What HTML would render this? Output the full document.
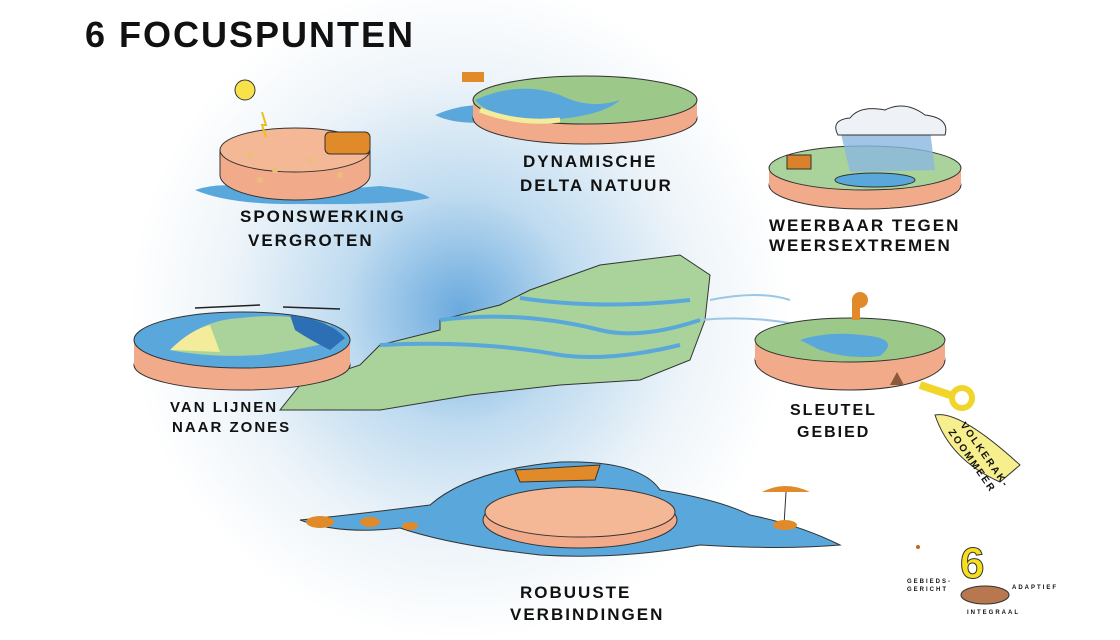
<!DOCTYPE html>
<html><head><meta charset="utf-8"><style>
html,body{margin:0;padding:0;background:#fff}
svg{display:block}
text{font-family:"Liberation Sans",sans-serif;font-weight:bold;letter-spacing:2px}
</style></head><body>
<svg width="1120" height="640" viewBox="0 0 1120 640" xmlns="http://www.w3.org/2000/svg">
<defs>
<radialGradient id="glow" cx="460" cy="310" r="330" gradientUnits="userSpaceOnUse">
<stop offset="0" stop-color="#6aaade"/><stop offset="0.35" stop-color="#bfdbf0"/><stop offset="0.7" stop-color="#edf4f9"/><stop offset="1" stop-color="#fff"/></radialGradient>
</defs>
<rect width="1120" height="640" fill="#fff"/>
<ellipse cx="460" cy="310" rx="430" ry="330" fill="url(#glow)"/>
<g fill="#111">
<text x="85" y="47" font-size="36" letter-spacing="5">6 FOCUSPUNTEN</text>
</g>

<!-- central map -->
<g stroke="#333" stroke-width="1">
<path d="M530 290 L600 265 L680 255 L710 275 L705 320 L690 360 L640 380 L560 385 L470 395 L380 410 L280 410 L300 385 L360 365 L380 345 L440 330 L440 320 L500 305 Z" fill="#a9d39a"/>
<path d="M440 320 Q520 310 600 330 Q640 340 700 320 M380 345 Q480 340 560 355 Q610 362 680 345 M520 298 Q600 310 690 300" fill="none" stroke="#5aa7dc" stroke-width="4"/>
<path d="M710 300 Q760 290 790 300 M700 320 Q750 315 800 325" fill="none" stroke="#9cc6e6" stroke-width="2"/>
</g>

<!-- sponswerking -->
<path d="M195 190 Q230 178 280 196 Q330 190 380 186 Q420 190 430 198 Q400 205 300 204 Q230 205 195 190Z" fill="#5aa7dc"/>
<ellipse cx="295" cy="175" rx="75" ry="25" fill="#f2ab8a" stroke="#333"/>
<rect x="220" y="150" width="150" height="25" fill="#f2ab8a"/>
<path d="M220 150 L220 175 M370 150 L370 175" stroke="#333"/>
<ellipse cx="295" cy="150" rx="75" ry="22" fill="#f4b896" stroke="#333"/>
<g fill="#e8c07a"><circle cx="250" cy="155" r="3"/><circle cx="275" cy="170" r="3"/><circle cx="310" cy="160" r="3"/><circle cx="340" cy="175" r="3"/><circle cx="260" cy="180" r="3"/></g>
<rect x="325" y="132" width="45" height="22" rx="5" fill="#e08a2a" stroke="#333"/>
<circle cx="245" cy="90" r="10" fill="#f7e24a" stroke="#333"/>
<path d="M262 112 L266 125 L262 125 L266 137" stroke="#e8c020" stroke-width="2" fill="none"/>
<g fill="#111">
<text x="240" y="222" font-size="17">SPONSWERKING</text>
<text x="248" y="246" font-size="17">VERGROTEN</text>
</g>

<!-- dynamische delta -->
<path d="M435 115 Q470 100 500 108 L490 122 Q455 125 435 115Z" fill="#5aa7dc"/>
<ellipse cx="585" cy="118" rx="112" ry="26" fill="#f2ab8a" stroke="#333"/>
<rect x="473" y="100" width="224" height="18" fill="#f2ab8a"/>
<ellipse cx="585" cy="100" rx="112" ry="24" fill="#9cc98a" stroke="#333"/>
<path d="M475 100 Q520 80 560 95 Q590 110 620 100 Q600 118 540 120 Q490 118 475 100Z" fill="#5aa7dc"/>
<path d="M480 110 Q520 125 560 120" fill="none" stroke="#f3ec9a" stroke-width="5"/>
<rect x="462" y="72" width="22" height="10" fill="#e08a2a"/>
<g fill="#111">
<text x="523" y="167" font-size="17">DYNAMISCHE</text>
<text x="520" y="191" font-size="17">DELTA NATUUR</text>
</g>

<!-- weerbaar -->
<ellipse cx="865" cy="185" rx="96" ry="24" fill="#f2ab8a" stroke="#333"/>
<rect x="769" y="168" width="192" height="17" fill="#f2ab8a"/>
<ellipse cx="865" cy="168" rx="96" ry="22" fill="#a9d39a" stroke="#333"/>
<ellipse cx="875" cy="180" rx="40" ry="7" fill="#5aa7dc" stroke="#333"/>
<path d="M840 130 L930 130 L935 170 L850 172Z" fill="#8ab8de" opacity="0.8"/>
<path d="M838 135 Q830 120 850 118 Q860 105 885 110 Q905 100 925 115 Q950 118 945 135Z" fill="#eef2f6" stroke="#333"/>
<rect x="787" y="155" width="24" height="14" fill="#d9822b" stroke="#333"/>
<g fill="#111">
<text x="769" y="231" font-size="17">WEERBAAR TEGEN</text>
<text x="769" y="251" font-size="17">WEERSEXTREMEN</text>
</g>

<!-- van lijnen -->
<path d="M195 308 L260 305 M283 307 L340 309" stroke="#222" stroke-width="1.5"/>
<ellipse cx="242" cy="365" rx="108" ry="25" fill="#f2ab8a" stroke="#333"/>
<rect x="134" y="340" width="216" height="25" fill="#f2ab8a"/>
<ellipse cx="242" cy="340" rx="108" ry="28" fill="#5aa7dc" stroke="#333"/>
<path d="M170 350 Q200 320 240 318 Q290 312 330 325 L340 340 Q300 350 260 355 Q210 358 170 350Z" fill="#a9d39a"/>
<path d="M170 350 Q190 330 210 325 L220 352Z" fill="#f3ec9a"/>
<path d="M290 315 Q330 320 345 338 L330 350 Q310 340 295 330Z" fill="#2c6fb5"/>
<g fill="#111">
<text x="170" y="412" font-size="15">VAN LIJNEN</text>
<text x="172" y="432" font-size="15">NAAR ZONES</text>
</g>

<!-- sleutel gebied -->
<ellipse cx="850" cy="360" rx="95" ry="30" fill="#f2ab8a" stroke="#333"/>
<rect x="755" y="340" width="190" height="20" fill="#f2ab8a"/>
<ellipse cx="850" cy="340" rx="95" ry="22" fill="#9cc98a" stroke="#333"/>
<path d="M800 340 Q830 330 870 336 Q900 340 880 356 Q850 360 820 350Z" fill="#5aa7dc"/>
<rect x="852" y="300" width="8" height="20" fill="#e08a2a"/>
<circle cx="860" cy="300" r="8" fill="#e08a2a"/>
<path d="M890 385 L897 372 L904 385Z" fill="#8a5a3a"/>
<path d="M920 385 L950 395" stroke="#f2d52a" stroke-width="8"/>
<circle cx="962" cy="398" r="10" fill="none" stroke="#f2d52a" stroke-width="6"/>
<path d="M935 415 Q960 410 1020 465 L1000 482 Q950 460 935 415Z" fill="#f7ee8d" stroke="#333"/>
<g fill="#111">
<text x="790" y="415" font-size="16">SLEUTEL</text>
<text x="797" y="437" font-size="16">GEBIED</text>
<text x="0" y="0" font-size="10" transform="translate(960,425) rotate(55)">VOLKERAK-</text>
<text x="0" y="0" font-size="10" transform="translate(948,432) rotate(55)">ZOOMMEER</text>
</g>

<!-- robuuste -->
<path d="M300 520 Q350 515 430 505 Q470 470 560 462 Q640 460 660 490 Q720 500 750 515 Q800 525 840 545 Q780 550 700 545 Q620 560 540 555 Q450 545 400 528 Q340 535 300 520Z" fill="#5aa7dc" stroke="#333"/>
<ellipse cx="580" cy="520" rx="97" ry="28" fill="#f2ab8a" stroke="#333"/>
<ellipse cx="580" cy="512" rx="95" ry="25" fill="#f4b896" stroke="#333"/>
<path d="M515 470 L600 465 L595 480 L520 482Z" fill="#e08a2a" stroke="#333"/>
<path d="M762 492 Q785 480 810 492Z" fill="#e08a2a"/>
<path d="M786 492 L784 525" stroke="#333"/>
<ellipse cx="785" cy="525" rx="12" ry="5" fill="#e08a2a"/>
<ellipse cx="320" cy="522" rx="14" ry="6" fill="#e08a2a"/>
<ellipse cx="370" cy="522" rx="10" ry="5" fill="#e08a2a"/>
<ellipse cx="410" cy="526" rx="8" ry="4" fill="#e08a2a"/>
<g fill="#111">
<text x="520" y="598" font-size="17">ROBUUSTE</text>
<text x="510" y="620" font-size="17">VERBINDINGEN</text>
</g>

<!-- bottom right 6 -->
<text x="960" y="578" font-size="44" style="fill:#f7df1e;stroke:#333;stroke-width:1" letter-spacing="0">6</text>
<ellipse cx="985" cy="595" rx="24" ry="9" fill="#b8774f" stroke="#333"/>
<circle cx="918" cy="547" r="2" fill="#c8651e"/>
<g fill="#111">
<text x="907" y="583" font-size="6" letter-spacing="0.5">GEBIEDS-</text>
<text x="907" y="591" font-size="6" letter-spacing="0.5">GERICHT</text>
<text x="1012" y="589" font-size="6" letter-spacing="0.5">ADAPTIEF</text>
<text x="967" y="614" font-size="6" letter-spacing="0.5">INTEGRAAL</text>
</g>
</svg>
</body></html>
